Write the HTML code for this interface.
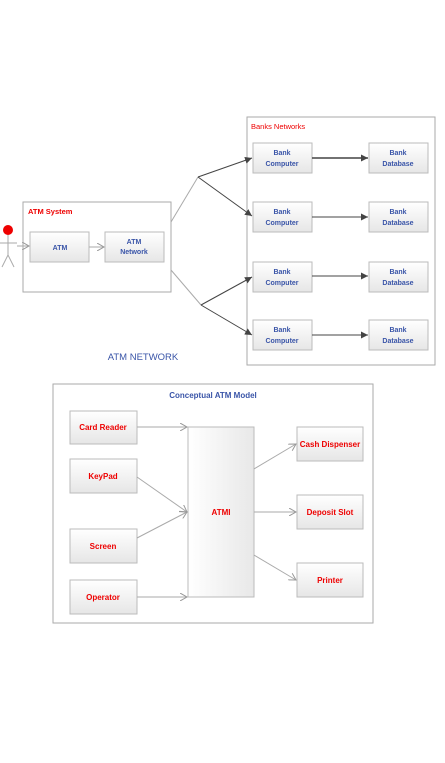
<!DOCTYPE html>
<html><head><meta charset="utf-8"><style>
body{margin:0;background:#fff;width:445px;height:763px;overflow:hidden}
svg{display:block}
text{font-family:"Liberation Sans",sans-serif;font-weight:bold}
</style></head><body>
<svg width="445" height="763" viewBox="0 0 445 763">
<defs>
<linearGradient id="g" x1="0" y1="0" x2="0" y2="1"><stop offset="0" stop-color="#ffffff"/><stop offset="1" stop-color="#e6e6e6"/></linearGradient>
<linearGradient id="gh" x1="0" y1="0" x2="1" y2="0"><stop offset="0" stop-color="#ffffff"/><stop offset="1" stop-color="#e8e8e8"/></linearGradient>
<marker id="a" markerWidth="8" markerHeight="8" refX="7" refY="3.5" orient="auto" markerUnits="userSpaceOnUse"><path d="M0,0 L7,3.5 L0,7 z" fill="#444"/></marker>
<marker id="o" markerWidth="8" markerHeight="8" refX="7" refY="4" orient="auto" markerUnits="userSpaceOnUse"><path d="M0,0 L7,4 L0,8" fill="none" stroke="#999"/></marker>
</defs>
<rect x="247" y="117" width="188" height="248" fill="#fff" stroke="#aaa"/>
<text x="251" y="129" font-size="7.5" fill="#e00" style="font-weight:normal">Banks Networks</text>
<rect x="23" y="202" width="148" height="90" fill="#fff" stroke="#aaa"/>
<text x="28" y="214" font-size="7.5" fill="#e00">ATM System</text>
<g stroke="#bbb" fill="url(#g)">
<rect x="30" y="232" width="59" height="30"/><rect x="105" y="232" width="59" height="30"/>
<rect x="253" y="143" width="59" height="30"/><rect x="253" y="202" width="59" height="30"/><rect x="253" y="262" width="59" height="30"/><rect x="253" y="320" width="59" height="30"/>
<rect x="369" y="143" width="59" height="30"/><rect x="369" y="202" width="59" height="30"/><rect x="369" y="262" width="59" height="30"/><rect x="369" y="320" width="59" height="30"/>
</g>
<g font-size="7" fill="#3a55a8" text-anchor="middle">
<text x="60" y="250">ATM</text>
<text x="134" y="244">ATM</text><text x="134" y="254">Network</text>
<text x="282" y="155">Bank</text><text x="282" y="166">Computer</text>
<text x="282" y="214">Bank</text><text x="282" y="225">Computer</text>
<text x="282" y="274">Bank</text><text x="282" y="285">Computer</text>
<text x="282" y="332">Bank</text><text x="282" y="343">Computer</text>
<text x="398" y="155">Bank</text><text x="398" y="166">Database</text>
<text x="398" y="214">Bank</text><text x="398" y="225">Database</text>
<text x="398" y="274">Bank</text><text x="398" y="285">Database</text>
<text x="398" y="332">Bank</text><text x="398" y="343">Database</text>
</g>
<text x="143" y="360" font-size="9.5" fill="#3a55a8" text-anchor="middle" style="font-weight:normal">ATM NETWORK</text>
<circle cx="8" cy="230" r="5" fill="#e00"/>
<g stroke="#aaa" fill="none"><line x1="8" y1="235" x2="8" y2="255"/><line x1="0" y1="243" x2="17" y2="243"/><line x1="8" y1="255" x2="2" y2="267"/><line x1="8" y1="255" x2="14" y2="267"/></g>
<line x1="17" y1="246" x2="29" y2="246" stroke="#aaa" marker-end="url(#o)"/>
<line x1="89" y1="247" x2="104" y2="247" stroke="#aaa" marker-end="url(#o)"/>
<g stroke="#aaa"><line x1="171" y1="222" x2="198" y2="177"/><line x1="171" y1="270" x2="201" y2="305"/></g>
<g stroke="#444" marker-end="url(#a)">
<line x1="198" y1="177" x2="252" y2="158"/><line x1="198" y1="177" x2="252" y2="216"/>
<line x1="201" y1="305" x2="252" y2="277"/><line x1="201" y1="305" x2="252" y2="335"/>
<line x1="312" y1="158" x2="368" y2="158" stroke-width="1.5"/><line x1="312" y1="217" x2="368" y2="217"/>
<line x1="312" y1="276" x2="368" y2="276"/><line x1="312" y1="335" x2="368" y2="335"/>
</g>
<rect x="53" y="384" width="320" height="239" fill="#fff" stroke="#aaa"/>
<text x="213" y="398" font-size="8" fill="#3a55a8" text-anchor="middle">Conceptual ATM Model</text>
<g stroke="#bbb">
<rect x="70" y="411" width="67" height="33" fill="url(#g)"/><rect x="70" y="459" width="67" height="34" fill="url(#g)"/>
<rect x="70" y="529" width="67" height="34" fill="url(#g)"/><rect x="70" y="580" width="67" height="34" fill="url(#g)"/>
<rect x="188" y="427" width="66" height="170" fill="url(#gh)"/>
<rect x="297" y="427" width="66" height="34" fill="url(#g)"/><rect x="297" y="495" width="66" height="34" fill="url(#g)"/><rect x="297" y="563" width="66" height="34" fill="url(#g)"/>
</g>
<g font-size="8" fill="#e00" text-anchor="middle">
<text x="103" y="430">Card Reader</text><text x="103" y="479">KeyPad</text>
<text x="103" y="549">Screen</text><text x="103" y="600">Operator</text>
<text x="221" y="515">ATMI</text>
<text x="330" y="447">Cash Dispenser</text><text x="330" y="515">Deposit Slot</text><text x="330" y="583">Printer</text>
</g>
<g stroke="#aaa" marker-end="url(#o)">
<line x1="137" y1="427" x2="187" y2="427"/><line x1="137" y1="477" x2="187" y2="512"/>
<line x1="137" y1="538" x2="187" y2="512"/><line x1="137" y1="597" x2="187" y2="597"/>
<line x1="254" y1="469" x2="296" y2="444"/><line x1="254" y1="512" x2="296" y2="512"/><line x1="254" y1="555" x2="296" y2="580"/>
</g>
</svg>
</body></html>
